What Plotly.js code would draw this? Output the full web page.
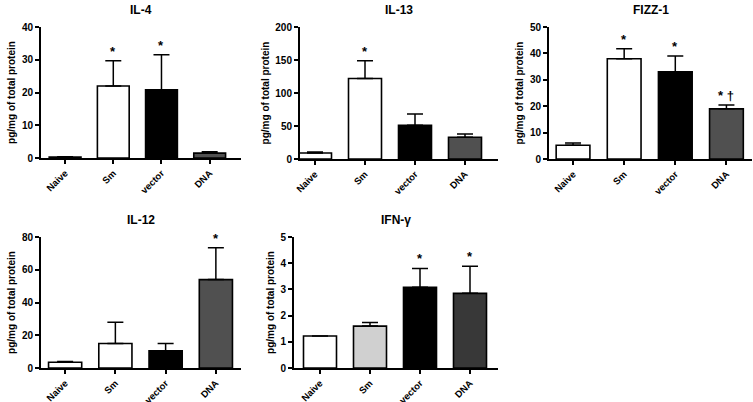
<!DOCTYPE html>
<html><head><meta charset="utf-8">
<script src="https://cdn.plot.ly/plotly-3.0.1.min.js"></script>
<style>html,body{margin:0;padding:0;background:#fff}#c{width:753px;height:402px}</style>
</head><body><div id="c"></div>
<script>
const groups = ["Naive", "Sm", "vector", "DNA"];
const titles = ["IL-4", "IL-13", "FIZZ-1", "IL-12", "IFN-γ"];
const il4 = [0.3, 22, 20.8, 1.5];
const il4Err = [0.1, 7.7, 10.7, 0.4];
const il13 = [9, 122, 51, 33];
const il13Err = [1.5, 27, 17, 5];
const fizz1 = [5.2, 38, 33, 19];
const fizz1Err = [0.9, 3.8, 6, 1.5];
const il12 = [3.5, 15, 10.5, 54];
const il12Err = [0.4, 13, 4.5, 19.5];
const ifng = [1.22, 1.6, 3.08, 2.85];
const ifngErr = [0, 0.14, 0.72, 1.03];
const yMax = [40, 200, 50, 80, 5];
const yStep = [10, 50, 10, 20, 1];
const stars = [["", "*", "*", ""], ["", "*", "", ""], ["", "*", "*", "* †"], ["", "", "", "*"], ["", "", "*", "*"]];

const values = [il4, il13, fizz1, il12, ifng];
const errs = [il4Err, il13Err, fizz1Err, il12Err, ifngErr];

const W = 753, H = 402;
const boxes = [[41, 241, 27, 158], [300, 498, 27, 159], [549, 752, 27, 159], [41, 241, 237, 368], [294, 498, 237, 368]];
const xRanges = [[-0.5, 3.65], [-0.3, 3.66], [-0.47, 3.5], [-0.48, 3.5], [-0.52, 3.56]];
const palettes = [
  ["#ffffff", "#ffffff", "#000000", "#505050"],
  ["#ffffff", "#ffffff", "#000000", "#505050"],
  ["#ffffff", "#ffffff", "#000000", "#505050"],
  ["#ffffff", "#ffffff", "#000000", "#505050"],
  ["#ffffff", "#d0d0d0", "#000000", "#383838"]
];

const data = [];
const layout = {
  width: W, height: H, margin: {l: 0, r: 0, t: 0, b: 0},
  paper_bgcolor: "#fff", plot_bgcolor: "#fff", showlegend: false,
  font: {family: "Liberation Sans, Arial, sans-serif", color: "#000"},
  annotations: []
};
values.forEach((vals, i) => {
  const n = i + 1;
  const xa = "x" + (n === 1 ? "" : n), ya = "y" + (n === 1 ? "" : n);
  data.push({
    type: "bar", x: groups, y: vals, xaxis: xa, yaxis: ya, width: 0.66,
    marker: {color: palettes[i], line: {color: "#000", width: 1.6}},
    error_y: {type: "data", symmetric: false, array: errs[i], arrayminus: vals.map(() => 0),
      color: "#000", thickness: 1.5, width: 8, visible: true},
    hoverinfo: "none"
  });
  const b = boxes[i];
  const xk = "xaxis" + (n === 1 ? "" : n), yk = "yaxis" + (n === 1 ? "" : n);
  layout[xk] = {
    domain: [b[0] / W, b[1] / W], anchor: ya, range: xRanges[i],
    showline: true, linecolor: "#000", linewidth: 2, ticks: "outside", ticklen: 4,
    tickwidth: 1.5, tickcolor: "#000", tickangle: -45, showgrid: false, zeroline: false,
    tickfont: {size: 9.5, weight: "bold"}
  };
  layout[yk] = {
    domain: [1 - b[3] / H, 1 - b[2] / H], anchor: xa, range: [0, yMax[i]], dtick: yStep[i],
    showline: true, linecolor: "#000", linewidth: 2, ticks: "outside", ticklen: 4,
    tickwidth: 1.5, tickcolor: "#000", showgrid: false, zeroline: false,
    tickfont: {size: 10, weight: "bold"},
    title: {text: "pg/mg of total protein", standoff: 4, font: {size: 10, weight: "bold"}}
  };
  layout.annotations.push({
    xref: "paper", yref: "paper", x: (b[0] + b[1]) / 2 / W, y: 1 - (b[2] - 17) / H,
    text: "<b>" + titles[i] + "</b>", showarrow: false, xanchor: "center", yanchor: "middle",
    font: {size: 12}
  });
  groups.forEach((g, j) => {
    if (stars[i][j]) {
      layout.annotations.push({
        xref: xa, yref: ya, x: g, y: vals[j] + errs[i][j], text: "<b>" + stars[i][j] + "</b>",
        showarrow: false, yanchor: "bottom", yshift: 0, font: {size: 13}
      });
    }
  });
});
Plotly.newPlot("c", data, layout, {displayModeBar: false});
</script></body></html>
